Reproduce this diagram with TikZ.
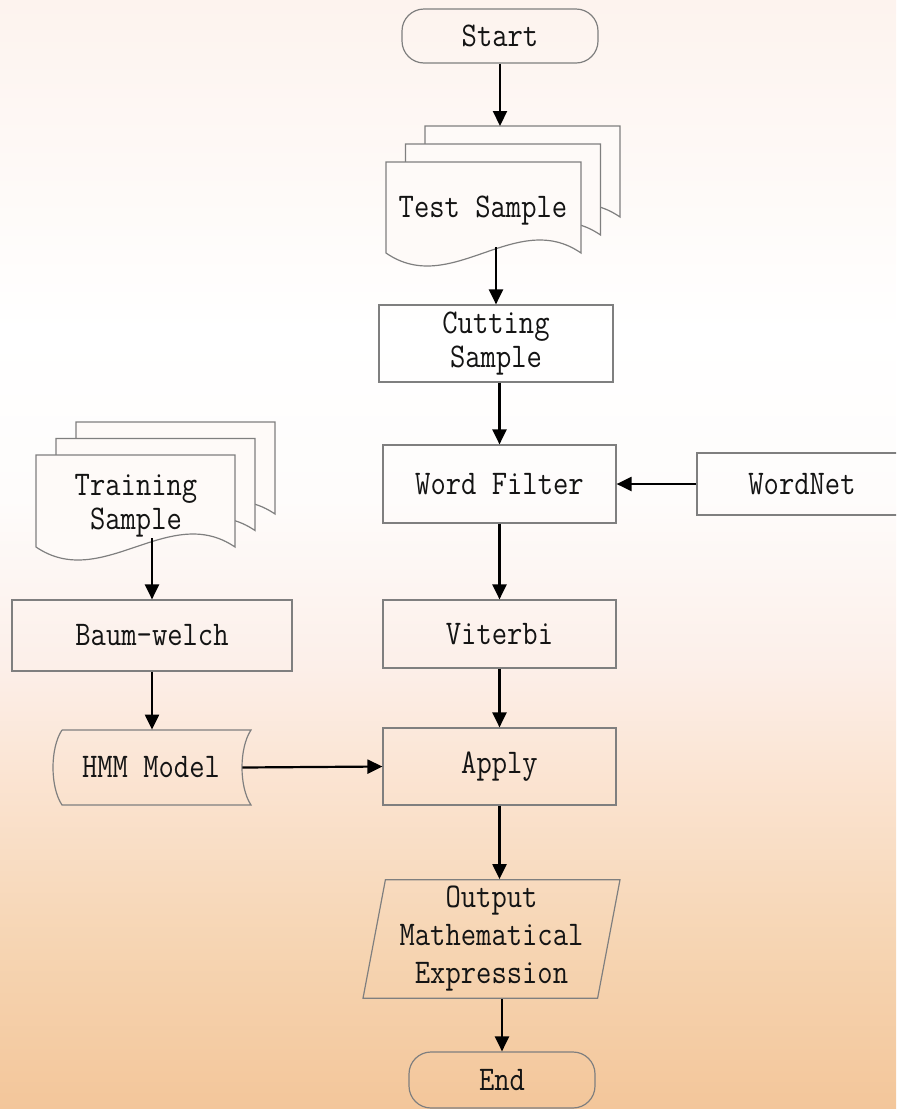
\documentclass[tikz,border=0pt]{standalone}
\usepackage{fontspec}
\usepackage{tikz}
\usetikzlibrary{arrows.meta,positioning,calc,shapes.geometric}
\usepackage{xcolor}

\newfontfamily\flowfont[FakeStretch=0.86]{Latin Modern Mono}
\definecolor{linegray}{HTML}{7F7F7F}
\definecolor{txtgray}{HTML}{141414}
\definecolor{pagefill}{HTML}{FEFAF8}
\pgfdeclareverticalshading{bgshade}{100bp}{%
	color(0bp)=(rgb,255:red,243;green,198;blue,154);
	color(25bp)=(rgb,255:red,243;green,198;blue,154);
	color(32.5bp)=(rgb,255:red,246;green,213;blue,179);
	color(40bp)=(rgb,255:red,251;green,228;blue,210);
	color(45bp)=(rgb,255:red,252;green,239;blue,233);
	color(52.5bp)=(rgb,255:red,254;green,252;blue,251);
	color(60bp)=(rgb,255:red,255;green,255;blue,255);
	color(75bp)=(rgb,255:red,253;green,243;blue,238);
	color(100bp)=(rgb,255:red,253;green,243;blue,238)}

\begin{document}
\begin{tikzpicture}[
			x=0.5pt, y=-0.5pt,
			>={Triangle[length=7.5pt,width=7pt]},
			flow/.style={->, line width=1.1pt, black},
			box/.style={rectangle, draw=linegray, line width=0.6pt, minimum width=116.5pt,
				align=center, text=txtgray, font=\flowfont\fontsize{17.3}{17}\selectfont},
			term/.style={box, rounded corners=11pt},
			page/.style={draw=linegray, line width=0.6pt, fill=pagefill},
			label/.style={align=center, text=txtgray, font=\flowfont\fontsize{17.3}{17}\selectfont}
			]
			\useasboundingbox (0,0) rectangle (896,1109);
			\shade[shading=bgshade] (0,0) rectangle (896,1109);
			\clip (0,0) rectangle (896,1109);
			
			% right column
			\node[term, minimum width=98pt, minimum height=27pt] (start) at (500,36) {Start};
			
			\foreach \k in {2,1,0}
			\draw[page] ({386+19.5*\k},{162-18*\k}) -- ++(195,0) -- ++(0,91)
			.. controls ({386+19.5*\k+130},{253-18*\k-45}) and ({386+19.5*\k+65},{253-18*\k+45})
			.. ({386+19.5*\k},{253-18*\k}) -- cycle;
			\node[label] (testdoc) at (483,211) {Test Sample};
			\coordinate (testtop) at (425,126);
			\coordinate (testbot) at (496,247);
			
			\node[box, minimum width=117pt, minimum height=38.5pt] (cut) at (496,343.5) {Cutting\\Sample};
			\node[box, minimum height=39pt] (filter) at (499.5,484) {Word Filter};
			\node[box, minimum width=105pt, minimum height=31pt] (wordnet) at (802,484) {WordNet};
			\node[box, minimum height=34pt] (viterbi) at (499.5,634) {Viterbi};
			\node[box, minimum height=38.5pt] (apply) at (499.5,766.5) {Apply};
			\node[box, trapezium, trapezium left angle=79.3, trapezium right angle=100.7,
			trapezium stretches body, minimum width=128.5pt, minimum height=58pt]
			(out) at (491.5,939) {Output\\[2pt]Mathematical\\[2pt]Expression};
			\node[term, minimum width=93pt, minimum height=28pt] (end) at (502,1080) {End};
			
			% left column
			\foreach \k in {2,1,0}
			\draw[page] ({36+20*\k},{455-16.5*\k}) -- ++(199,0) -- ++(0,92)
			.. controls ({36+20*\k+133},{547-16.5*\k-45}) and ({36+20*\k+66},{547-16.5*\k+45})
			.. ({36+20*\k},{547-16.5*\k}) -- cycle;
			\node[label] (traindoc) at (136,506) {Training\\Sample};
			\coordinate (trainbot) at (152,538);
			
			\node[box, minimum width=140pt, minimum height=35.5pt] (baum) at (152,635.5) {Baum-welch};
			\draw[draw=linegray, line width=0.6pt] (62,730) -- (251,730)
			.. controls (239,748) and (239,787) .. (251,805) -- (62,805)
			.. controls (50,787) and (50,748) .. (62,730);
			\node[label, minimum width=91pt, minimum height=37.5pt] (hmm) at (151,767.5) {HMM Model};
			
			% connectors
			\draw[flow] (start.south) -- (start.south |- testtop);
			\draw[flow] (testbot) -- (cut.north);
			\draw[flow] (cut.south -| filter.north) -- (filter.north);
			\draw[flow] (wordnet.west) -- (filter.east);
			\draw[flow] (filter) -- (viterbi);
			\draw[flow] (viterbi) -- (apply);
			\draw[flow] (apply.south) -- (apply.south |- out.north);
			\draw[flow] (out.south -| end.north) -- (end.north);
			\draw[flow] (trainbot) -- (baum.north);
			\draw[flow] (baum.south) -- (baum.south |- hmm.north);
			\draw[flow] (hmm.east) -- (apply.west);
		\end{tikzpicture}
\end{document}
